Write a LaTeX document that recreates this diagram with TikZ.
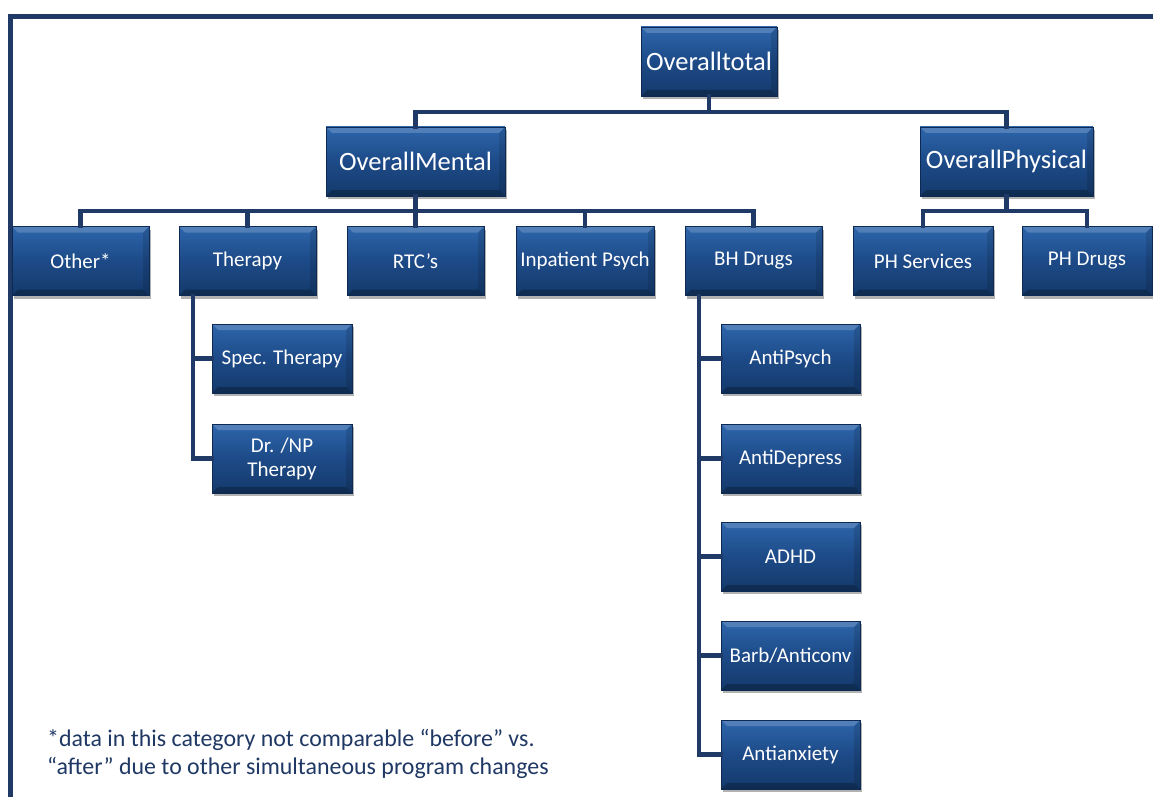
\documentclass[tikz,border=0pt]{standalone}
\usepackage{fontspec}
\setmainfont{Carlito}[Ligatures=ResetAll]
\usetikzlibrary{shadows}
\definecolor{navy}{HTML}{1F3A66}
\definecolor{boxmid}{HTML}{1D4A87}
\definecolor{boxtop}{HTML}{2D66AC}
\definecolor{boxbot}{HTML}{143A6C}
\definecolor{boxedge}{HTML}{0F2A52}
\definecolor{notecol}{HTML}{1F3864}
\tikzset{
  orgbox/.style={draw=boxedge, line width=0.6pt, inner sep=0pt, minimum height=69pt,
    text=white, align=center, top color=boxtop, bottom color=boxbot, middle color=boxmid,
    drop shadow={shadow xshift=2pt, shadow yshift=-3pt, opacity=0.3, fill=black},
    path picture={
      \fill[white,opacity=0.18] (path picture bounding box.north west) -- (path picture bounding box.north east)
        -- ([shift={(-6pt,-6pt)}]path picture bounding box.north east) -- ([shift={(6pt,-6pt)}]path picture bounding box.north west) -- cycle;
      \fill[black,opacity=0.25] (path picture bounding box.south west) -- (path picture bounding box.south east)
        -- ([shift={(-6pt,6pt)}]path picture bounding box.south east) -- ([shift={(6pt,6pt)}]path picture bounding box.south west) -- cycle;
      \fill[black,opacity=0.12] (path picture bounding box.north east) -- (path picture bounding box.south east)
        -- ([shift={(-6pt,6pt)}]path picture bounding box.south east) -- ([shift={(-6pt,-6pt)}]path picture bounding box.north east) -- cycle;
    }},
  bigbox/.style={orgbox, font=\fontsize{26.5}{29}\selectfont},
  smallbox/.style={orgbox, font=\fontsize{21}{24}\selectfont},
  conn/.style={draw=navy, line width=4.5pt, line cap=rect, line join=miter},
  frame/.style={draw=navy, line width=4.5pt}
}
\begin{document}
\begin{tikzpicture}[x=1pt,y=-1pt]
\useasboundingbox (0,0) rectangle (1153,797);
\fill[white] (0,0) rectangle (1153,797);
% frame
\coordinate (f0) at (10.5,16.5);
\coordinate (f1) at (1160,16.5);
\coordinate (f2) at (10.5,805);
\draw[frame] (f1) -- (f0) -- (f2);
% buses
\coordinate (b1) at (0,112);
\coordinate (b2) at (0,211);
% top levels
\node[bigbox, minimum width=136pt] (tot) at (709,61.5) {Overalltotal};
\node[bigbox, minimum width=179pt] (mental) at (415.5,161.5) {OverallMental};
\node[bigbox, minimum width=173pt] (phys) at (1006.5,161.5) {OverallPhysical};
% row 2
\node[smallbox, minimum width=137pt] (other) at (80.5,261) {Other*};
\node[smallbox, minimum width=137pt] (ther) at (247.5,261) {Therapy};
\node[smallbox, minimum width=137pt] (rtc) at (415.5,261) {RTC's};
\node[smallbox, minimum width=138pt] (inp) at (585,261) {Inpatient Psych};
\node[smallbox, minimum width=137pt] (bh) at (753.5,261) {BH Drugs};
\node[smallbox, minimum width=140pt] (phs) at (923,261) {PH Services};
\node[smallbox, minimum width=130pt] (phd) at (1087,261) {PH Drugs};
% therapy children
\node[smallbox, minimum width=140pt] (spec) at (282,358.5) {Spec. Therapy};
\node[smallbox, minimum width=140pt] (drnp) at (282,458.5) {Dr. /NP\\Therapy};
% BH children
\node[smallbox, minimum width=139pt] (apsy) at (790.5,358.5) {AntiPsych};
\node[smallbox, minimum width=139pt] (adep) at (790.5,458.5) {AntiDepress};
\node[smallbox, minimum width=139pt] (adhd) at (790.5,556.5) {ADHD};
\node[smallbox, minimum width=139pt] (barb) at (790.5,655.5) {Barb/Anticonv};
\node[smallbox, minimum width=139pt] (aanx) at (790.5,754.5) {Antianxiety};
% connectors
\draw[conn] (tot.south) -- (tot.south |- b1);
\draw[conn] (mental.north) -- (mental.north |- b1) -- (phys.north |- b1) -- (phys.north);
\draw[conn] (mental.south) -- (mental.south |- b2);
\draw[conn] (other.north) -- (other.north |- b2) -- (bh.north |- b2) -- (bh.north);
\draw[conn] (ther.north) -- (ther.north |- b2);
\draw[conn] (rtc.north) -- (rtc.north |- b2);
\draw[conn] (inp.north) -- (inp.north |- b2);
\draw[conn] (phys.south) -- (phys.south |- b2);
\draw[conn] (phs.north) -- (phs.north |- b2) -- (phd.north |- b2) -- (phd.north);
% therapy branch
\coordinate (tv) at (193,0);
\draw[conn] (ther.south -| tv) -- (tv |- drnp.west) -- (drnp.west);
\draw[conn] (tv |- spec.west) -- (spec.west);
% BH branch
\coordinate (bv) at (699,0);
\draw[conn] (bh.south -| bv) -- (bv |- aanx.west) -- (aanx.west);
\draw[conn] (bv |- apsy.west) -- (apsy.west);
\draw[conn] (bv |- adep.west) -- (adep.west);
\draw[conn] (bv |- adhd.west) -- (adhd.west);
\draw[conn] (bv |- barb.west) -- (barb.west);
% footnote
\node[anchor=base west, text=notecol, font=\fontsize{23.9}{28.5}\selectfont, align=left, inner sep=0pt] (note) at (47,774.5)
  {*data in this category not comparable “before” vs.\\“after” due to other simultaneous program changes};
\end{tikzpicture}
\end{document}
